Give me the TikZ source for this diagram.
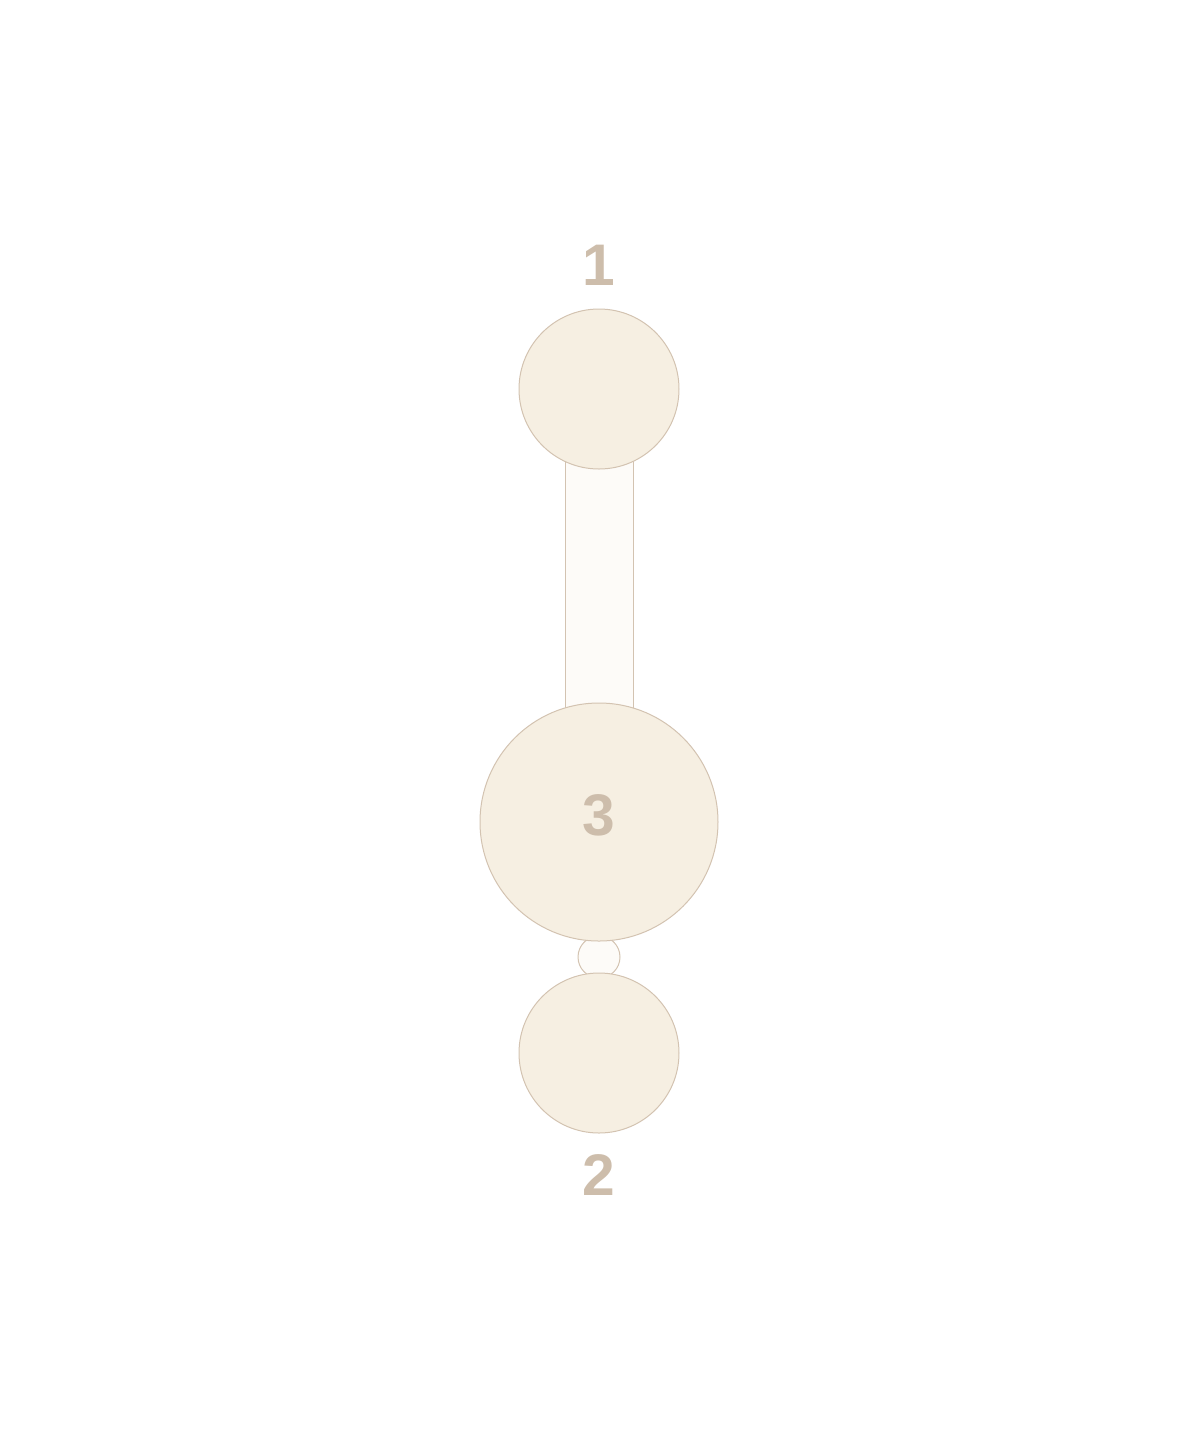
\documentclass[tikz,border=0pt]{standalone}
\usepackage{fontspec}
\setmainfont{Liberation Sans}
\usetikzlibrary{positioning,calc,backgrounds}

\definecolor{ballfill}{HTML}{F6EFE2}
\definecolor{ballline}{HTML}{D3C3B1}
\definecolor{linkfill}{HTML}{FDFBF8}
\definecolor{numtext}{HTML}{CDBDAB}

\tikzset{
  ball/.style={circle,draw=ballline,fill=ballfill,line width=0.75pt,inner sep=0pt,outer sep=0pt},
  num/.style={text=numtext,font=\fontsize{44}{48}\selectfont\bfseries,inner sep=0pt},
  bond/.style={draw=ballline,line width=0.75pt,double=linkfill,double distance=50.25pt},
  joint/.style={circle,draw=ballline,fill=linkfill,line width=0.75pt,inner sep=0pt,minimum size=31.5pt}
}

\begin{document}
\begin{tikzpicture}[x=0.75pt,y=-0.75pt]
\useasboundingbox (0,0) rectangle (1200,1440);

% Balls
\node[ball,minimum size=120pt] (one) at (599,389) {};
\node[ball,minimum size=178.5pt] (three) at (599,822) {};
\node[ball,minimum size=120pt] (two) at (599,1053) {};

% Labels
\node[num,anchor=base] (lone) at (599,285) {1};
\node[num] (lthree) at (599,815) {3};
\node[num,anchor=base] (ltwo) at (599,1195) {2};

% Links, behind the balls
\begin{scope}[on background layer]
\draw[bond] (one.center) -- (three.center);
\node[joint] (mid) at ($(three.south)!0.5!(two.north)$) {};
\end{scope}

\end{tikzpicture}
\end{document}
